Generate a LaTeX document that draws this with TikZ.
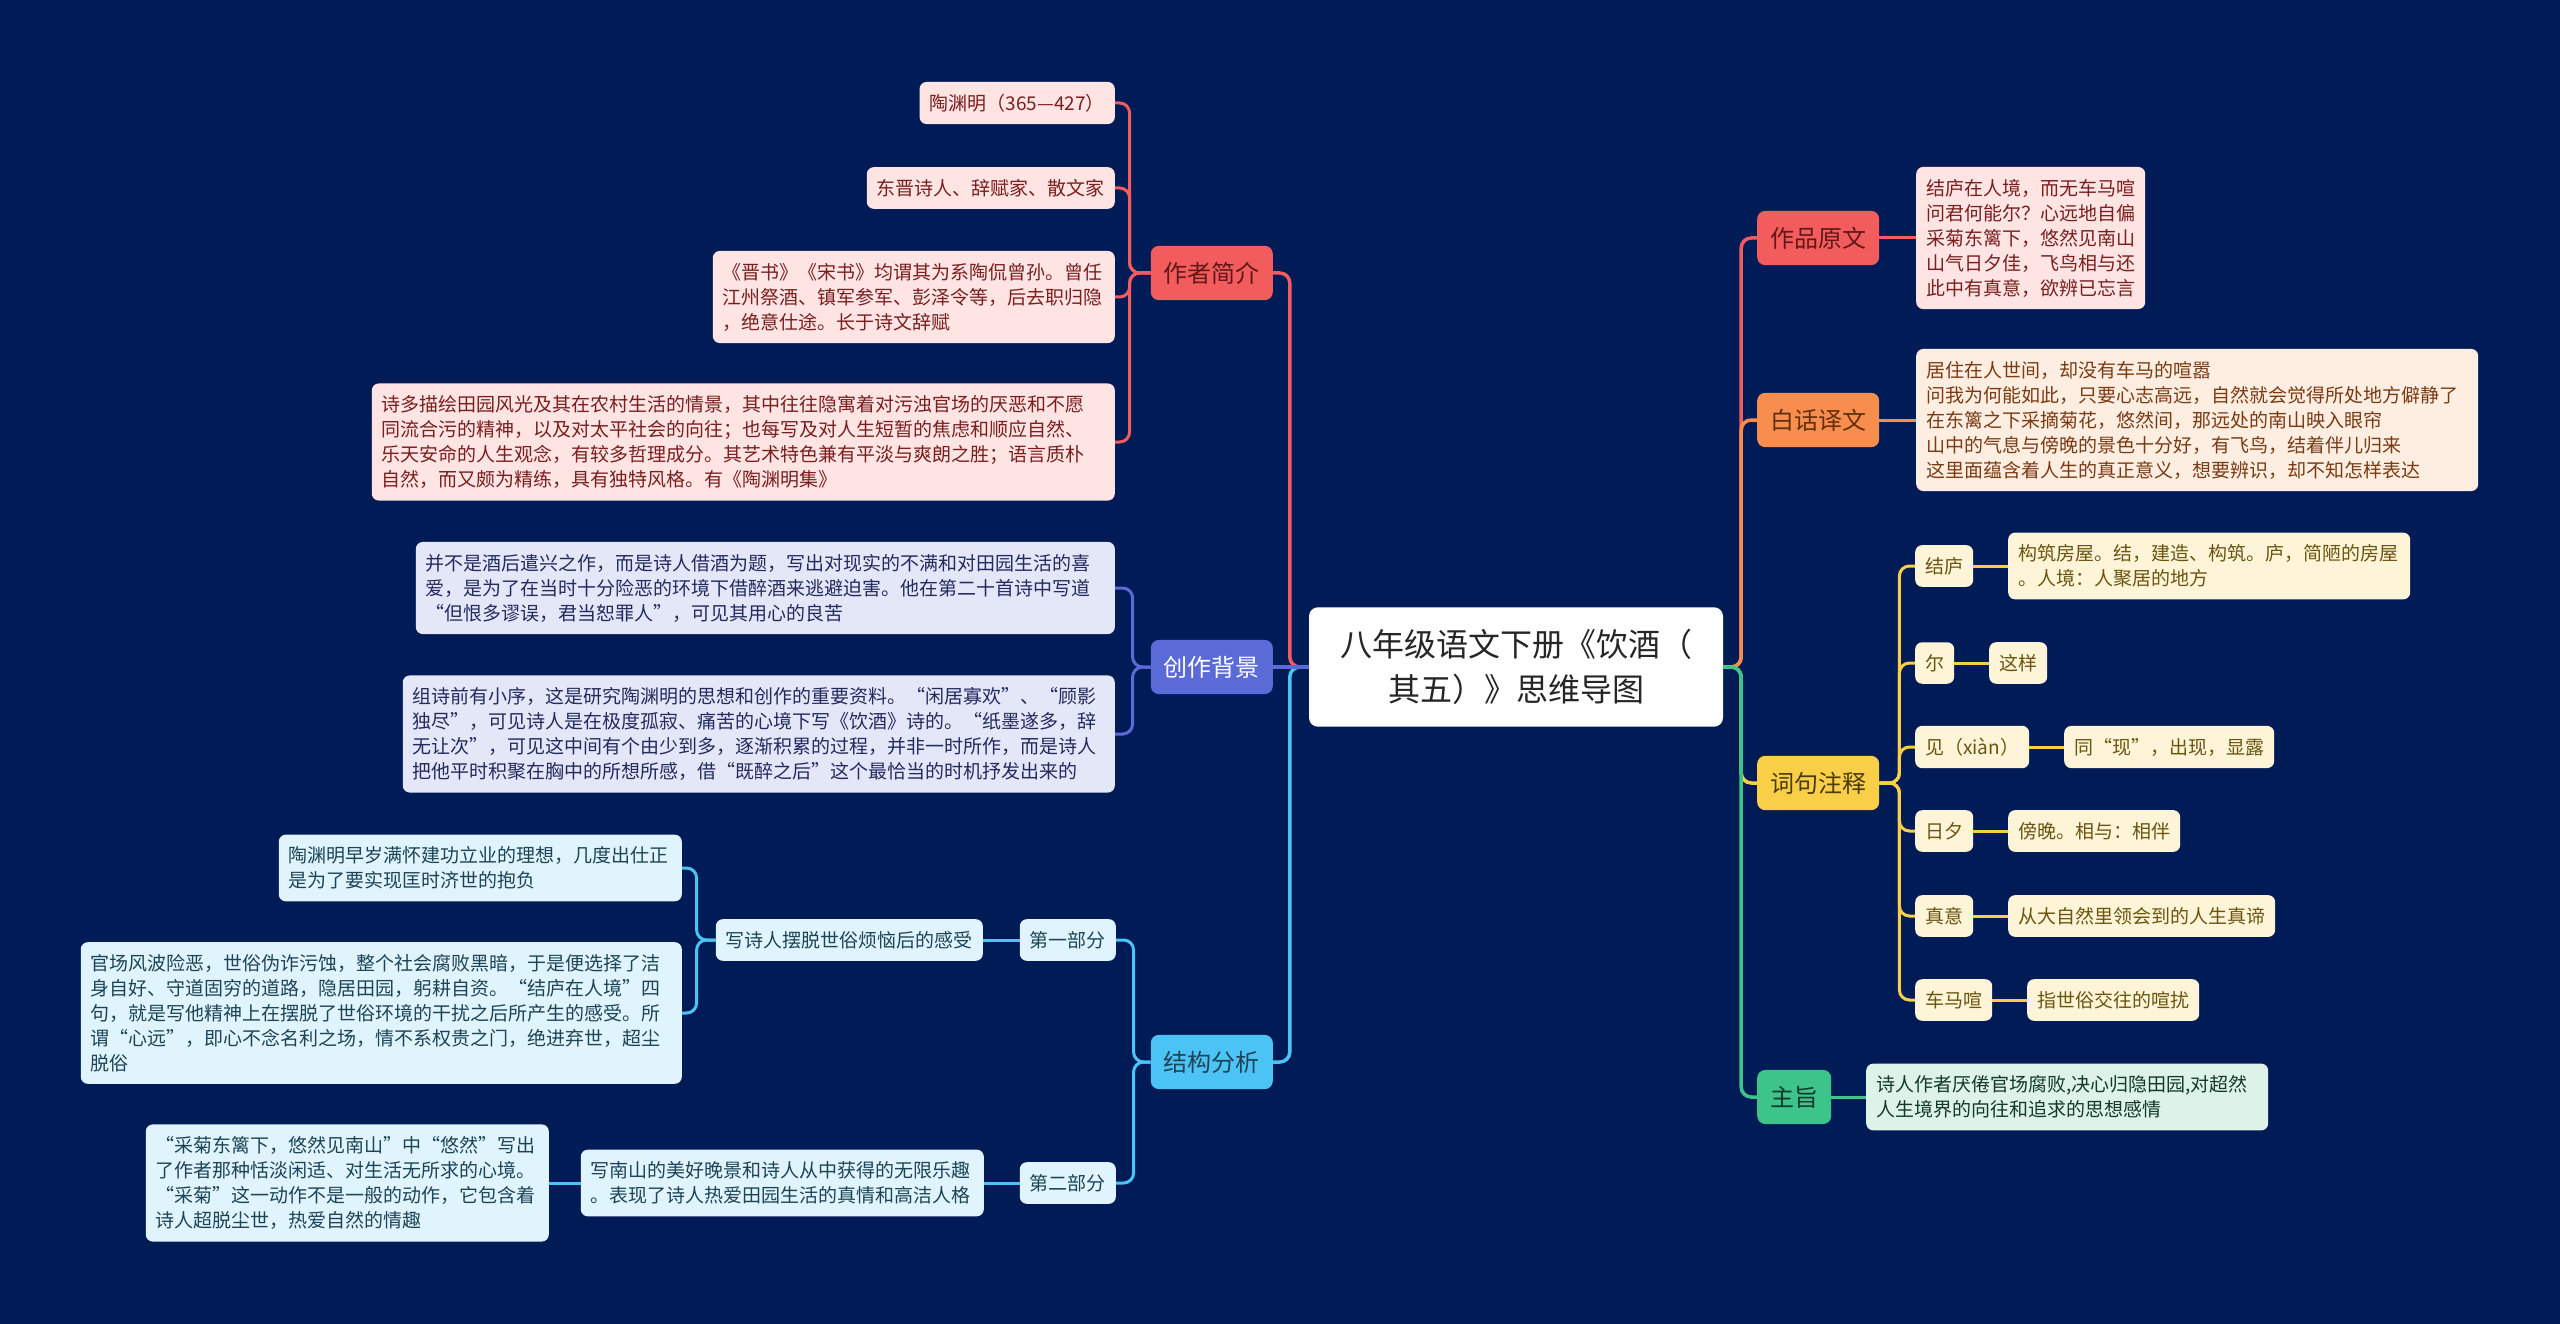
\documentclass[tikz,border=0pt]{standalone}
\usepackage{fontspec}
\setmainfont{Noto Sans CJK SC}
\usepackage{tikz}
\definecolor{bgnavy}{HTML}{011B57}
\definecolor{zzmain}{HTML}{F25C5C}
\definecolor{zzlight}{HTML}{FFE4E4}
\definecolor{zztext}{HTML}{7A1E1E}
\definecolor{bjmain}{HTML}{5A6BD8}
\definecolor{bjlight}{HTML}{E4E7F8}
\definecolor{bjtext}{HTML}{232B5E}
\definecolor{jgmain}{HTML}{4CC3F5}
\definecolor{jglight}{HTML}{E0F4FD}
\definecolor{jgtext}{HTML}{1D4456}
\definecolor{ywmain}{HTML}{F88E4E}
\definecolor{ywlight}{HTML}{FEEEE2}
\definecolor{ywtext}{HTML}{7A3A12}
\definecolor{zsmain}{HTML}{F9CF47}
\definecolor{zslight}{HTML}{FEF5D8}
\definecolor{zstext}{HTML}{6B5410}
\definecolor{zhmain}{HTML}{3CC48A}
\definecolor{zhlight}{HTML}{DDF3E8}
\definecolor{zhtext}{HTML}{14382A}

\begin{document}
\begin{tikzpicture}[x=1pt,y=-1pt,
    box/.style={rounded corners=7pt,align=left,inner xsep=10pt,inner ysep=12pt,font=\fontsize{19}{25}\selectfont},
    hub/.style={rounded corners=8pt,inner xsep=13pt,inner ysep=16pt,font=\fontsize{24}{30}\selectfont},
    link/.style={line width=3.5pt,rounded corners=10pt},
    twig/.style={line width=3pt,rounded corners=10pt},
    zzleaf/.style={box,fill=zzlight,text=zztext},
    bjleaf/.style={box,fill=bjlight,text=bjtext},
    jgleaf/.style={box,fill=jglight,text=jgtext},
    ywleaf/.style={box,fill=ywlight,text=ywtext},
    zsleaf/.style={box,fill=zslight,text=zstext},
    zhleaf/.style={box,fill=zhlight,text=zhtext}]
  \useasboundingbox (0,0) rectangle (2560,1324);
  \fill[bgnavy] (0,0) rectangle (2560,1324);

  % centre
  \node[fill=white,rounded corners=9pt,align=center,text width=360pt,inner xsep=27pt,inner ysep=22pt,
        font=\fontsize{32}{45}\selectfont,text=black!85] (title) at (1516,667)
        {八年级语文下册《饮酒（\\其五）》思维导图};

  % left side
  \node[hub,fill=zzmain,text=zztext!80!black,anchor=east] (zuozhe) at (1273,273) {作者简介};
  \node[zzleaf,anchor=east] (zz1) at (1115,103) {陶渊明（365—427）};
  \node[zzleaf,anchor=east] (zz2) at (1115,188) {东晋诗人、辞赋家、散文家};
  \node[zzleaf,anchor=east,text width=382pt] (zz3) at (1115,297)
    {《晋书》《宋书》均谓其为系陶侃曾孙。曾任\\江州祭酒、镇军参军、彭泽令等，后去职归隐\\，绝意仕途。长于诗文辞赋};
  \node[zzleaf,anchor=east,text width=723pt] (zz4) at (1115,442)
    {诗多描绘田园风光及其在农村生活的情景，其中往往隐寓着对污浊官场的厌恶和不愿\\同流合污的精神，以及对太平社会的向往；也每写及对人生短暂的焦虑和顺应自然、\\乐天安命的人生观念，有较多哲理成分。其艺术特色兼有平淡与爽朗之胜；语言质朴\\自然，而又颇为精练，具有独特风格。有《陶渊明集》};

  \node[hub,fill=bjmain,text=white,anchor=east] (beijing) at (1273,667) {创作背景};
  \node[bjleaf,anchor=east,text width=679pt] (bj1) at (1115,588)
    {并不是酒后遣兴之作，而是诗人借酒为题，写出对现实的不满和对田园生活的喜\\爱，是为了在当时十分险恶的环境下借醉酒来逃避迫害。他在第二十首诗中写道\\“但恨多谬误，君当恕罪人”，可见其用心的良苦};
  \node[bjleaf,anchor=east,text width=692pt] (bj2) at (1115,734)
    {组诗前有小序，这是研究陶渊明的思想和创作的重要资料。“闲居寡欢”、“顾影\\独尽”，可见诗人是在极度孤寂、痛苦的心境下写《饮酒》诗的。“纸墨遂多，辞\\无让次”，可见这中间有个由少到多，逐渐积累的过程，并非一时所作，而是诗人\\把他平时积聚在胸中的所想所感，借“既醉之后”这个最恰当的时机抒发出来的};

  \node[hub,fill=jgmain,text=jgtext,anchor=east] (jiegou) at (1273,1062) {结构分析};
  \node[jgleaf,anchor=east] (part1) at (1116,940) {第一部分};
  \node[jgleaf,anchor=east] (gan) at (983,940) {写诗人摆脱世俗烦恼后的感受};
  \node[jgleaf,anchor=east,text width=383pt] (gan1) at (682,868)
    {陶渊明早岁满怀建功立业的理想，几度出仕正\\是为了要实现匡时济世的抱负};
  \node[jgleaf,anchor=east,text width=581pt] (gan2) at (682,1013)
    {官场风波险恶，世俗伪诈污蚀，整个社会腐败黑暗，于是便选择了洁\\身自好、守道固穷的道路，隐居田园，躬耕自资。“结庐在人境”四\\句，就是写他精神上在摆脱了世俗环境的干扰之后所产生的感受。所\\谓“心远”，即心不念名利之场，情不系权贵之门，绝进弃世，超尘\\脱俗};
  \node[jgleaf,anchor=east] (part2) at (1116,1183) {第二部分};
  \node[jgleaf,anchor=east,text width=383pt] (nan) at (984,1183)
    {写南山的美好晚景和诗人从中获得的无限乐趣\\。表现了诗人热爱田园生活的真情和高洁人格};
  \node[jgleaf,anchor=east,text width=383pt] (nan1) at (549,1183)
    {“采菊东篱下，悠然见南山”中“悠然”写出\\了作者那种恬淡闲适、对生活无所求的心境。\\“采菊”这一动作不是一般的动作，它包含着\\诗人超脱尘世，热爱自然的情趣};

  % right side
  \node[hub,fill=zzmain,text=zztext!80!black,anchor=west] (yuanwen) at (1757,238) {作品原文};
  \node[zzleaf,anchor=west] (yw1) at (1916,238)
    {结庐在人境，而无车马喧\\问君何能尔？心远地自偏\\采菊东篱下，悠然见南山\\山气日夕佳，飞鸟相与还\\此中有真意，欲辨已忘言};

  \node[hub,fill=ywmain,text=ywtext!80!black,anchor=west] (yiwen) at (1757,420) {白话译文};
  \node[ywleaf,anchor=west,text width=542pt] (yi1) at (1916,420)
    {居住在人世间，却没有车马的喧嚣\\问我为何能如此，只要心志高远，自然就会觉得所处地方僻静了\\在东篱之下采摘菊花，悠然间，那远处的南山映入眼帘\\山中的气息与傍晚的景色十分好，有飞鸟，结着伴儿归来\\这里面蕴含着人生的真正意义，想要辨识，却不知怎样表达};

  \node[hub,fill=zsmain,text=zstext!70!black,anchor=west] (zhushi) at (1757,783) {词句注释};
  \node[zsleaf,anchor=west] (jl) at (1915,566) {结庐};
  \node[zsleaf,anchor=west,text width=382pt] (jlN) at (2008,566)
    {构筑房屋。结，建造、构筑。庐，简陋的房屋\\。人境：人聚居的地方};
  \node[zsleaf,anchor=west] (er) at (1915,663) {尔};
  \node[zsleaf,anchor=west] (erN) at (1989,663) {这样};
  \node[zsleaf,anchor=west] (xian) at (1915,747) {见（xiàn）};
  \node[zsleaf,anchor=west] (xianN) at (2064,747) {同“现”，出现，显露};
  \node[zsleaf,anchor=west] (rx) at (1915,831) {日夕};
  \node[zsleaf,anchor=west] (rxN) at (2008,831) {傍晚。相与：相伴};
  \node[zsleaf,anchor=west] (zy) at (1915,916) {真意};
  \node[zsleaf,anchor=west] (zyN) at (2008,916) {从大自然里领会到的人生真谛};
  \node[zsleaf,anchor=west] (cm) at (1915,1000) {车马喧};
  \node[zsleaf,anchor=west] (cmN) at (2027,1000) {指世俗交往的喧扰};

  \node[hub,fill=zhmain,text=zhtext,anchor=west] (zhuzhi) at (1757,1097) {主旨};
  \node[zhleaf,anchor=west,text width=382pt] (zhi1) at (1866,1097)
    {诗人作者厌倦官场腐败,决心归隐田园,对超然\\人生境界的向往和追求的思想感情};

  % links from the centre
  \draw[link,zzmain] (title.west) -- ++(-19,0) |- (zuozhe.east);
  \draw[link,jgmain] (title.west) -- ++(-19,0) |- (jiegou.east);
  \draw[link,bjmain] (title.west) -- (beijing.east);
  \draw[link,zzmain] (title.east) -- ++(18,0) |- (yuanwen.west);
  \draw[link,ywmain] (title.east) -- ++(18,0) |- (yiwen.west);
  \draw[link,zsmain] (title.east) -- ++(18,0) |- (zhushi.west);
  \draw[link,zhmain] (title.east) -- ++(18,0) |- (zhuzhi.west);

  % links to the leaves
  \draw[twig,zzmain] (zuozhe.west) -- ++(-21,0) |- (zz1.east);
  \draw[twig,zzmain] (zuozhe.west) -- ++(-21,0) |- (zz2.east);
  \draw[twig,zzmain] (zuozhe.west) -- ++(-21,0) |- (zz3.east);
  \draw[twig,zzmain] (zuozhe.west) -- ++(-21,0) |- (zz4.east);
  \draw[twig,bjmain] (beijing.west) -- ++(-18,0) |- (bj1.east);
  \draw[twig,bjmain] (beijing.west) -- ++(-18,0) |- (bj2.east);
  \draw[twig,jgmain] (jiegou.west) -- ++(-17,0) |- (part1.east);
  \draw[twig,jgmain] (jiegou.west) -- ++(-17,0) |- (part2.east);
  \draw[twig,jgmain] (part1.west) -- (gan.east);
  \draw[twig,jgmain] (gan.west) -- ++(-19,0) |- (gan1.east);
  \draw[twig,jgmain] (gan.west) -- ++(-19,0) |- (gan2.east);
  \draw[twig,jgmain] (part2.west) -- (nan.east);
  \draw[twig,jgmain] (nan.west) -- (nan1.east);
  \draw[twig,zzmain] (yuanwen.east) -- (yw1.west);
  \draw[twig,ywmain] (yiwen.east) -- (yi1.west);
  \draw[twig,zsmain] (zhushi.east) -- ++(20,0) |- (jl.west);
  \draw[twig,zsmain] (zhushi.east) -- ++(20,0) |- (er.west);
  \draw[twig,zsmain] (zhushi.east) -- ++(20,0) |- (xian.west);
  \draw[twig,zsmain] (zhushi.east) -- ++(20,0) |- (rx.west);
  \draw[twig,zsmain] (zhushi.east) -- ++(20,0) |- (zy.west);
  \draw[twig,zsmain] (zhushi.east) -- ++(20,0) |- (cm.west);
  \draw[twig,zsmain] (jl.east) -- (jlN.west);
  \draw[twig,zsmain] (er.east) -- (erN.west);
  \draw[twig,zsmain] (xian.east) -- (xianN.west);
  \draw[twig,zsmain] (rx.east) -- (rxN.west);
  \draw[twig,zsmain] (zy.east) -- (zyN.west);
  \draw[twig,zsmain] (cm.east) -- (cmN.west);
  \draw[twig,zhmain] (zhuzhi.east) -- (zhi1.west);
\end{tikzpicture}
\end{document}
